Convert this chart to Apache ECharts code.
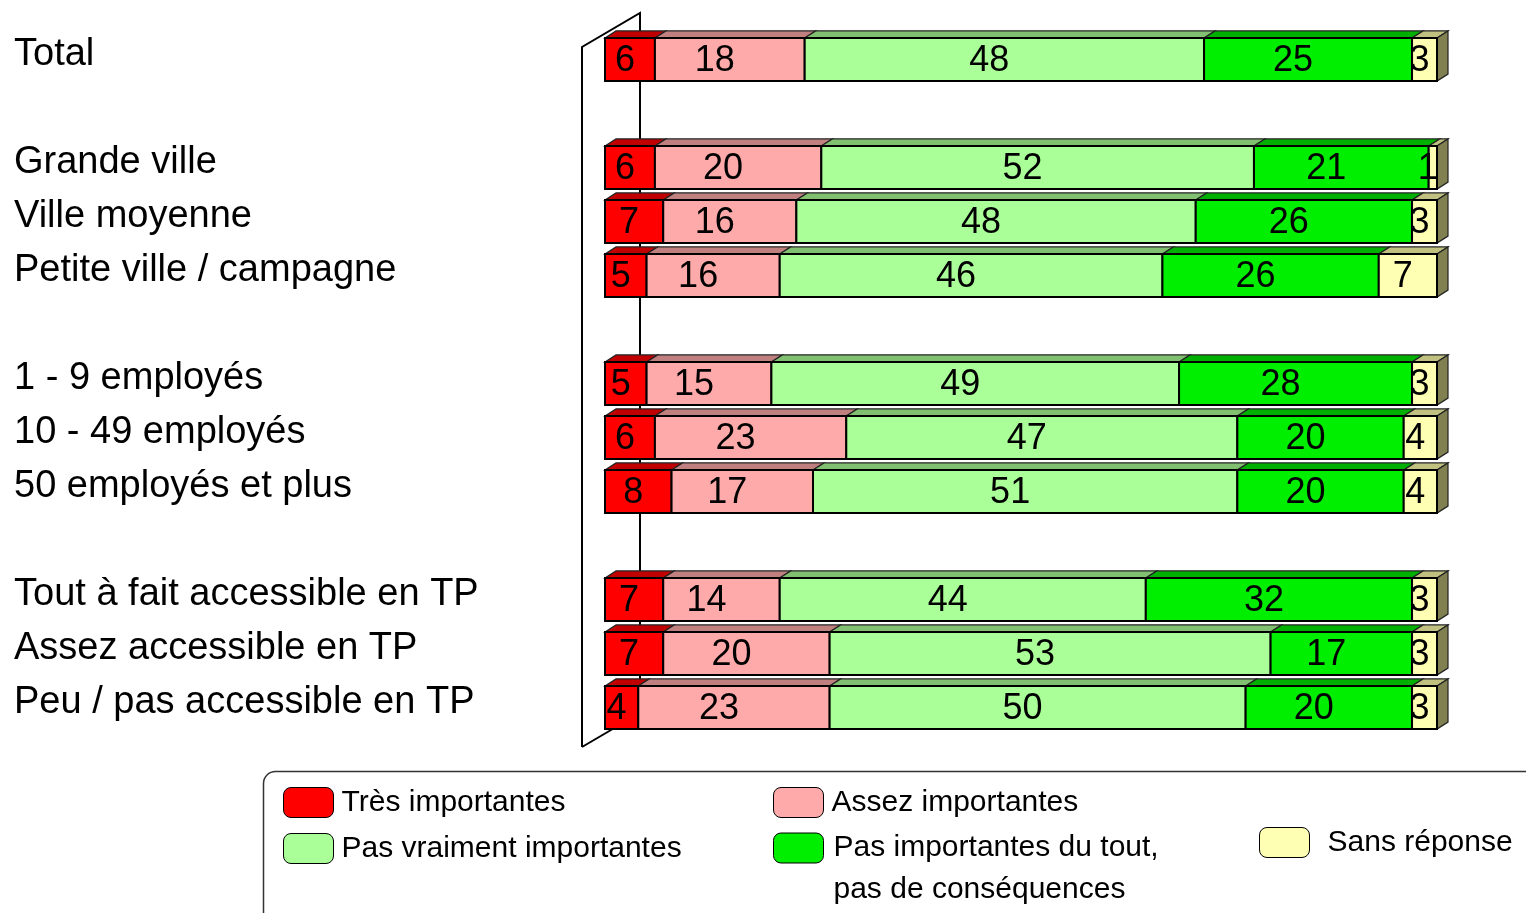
<!DOCTYPE html>
<html>
<head>
<meta charset="utf-8">
<script src="https://cdn.jsdelivr.net/npm/echarts@6/dist/echarts.min.js"></script>
<style>
html,body{margin:0;padding:0;background:#fff;}
#chart{width:1526px;height:913px;}
</style>
</head>
<body>
<div id="chart"></div>
<script>
// ---- data ----
const categories = ['Total', ' ', 'Grande ville', 'Ville moyenne', 'Petite ville / campagne', '  ',
  '1 - 9 employés', '10 - 49 employés', '50 employés et plus', '   ',
  'Tout à fait accessible en TP', 'Assez accessible en TP', 'Peu / pas accessible en TP'];
const rowIndex = [0, 2, 3, 4, 6, 7, 8, 10, 11, 12];
const seriesNames = ['Très importantes', 'Assez importantes', 'Pas vraiment importantes',
  'Pas importantes du tout, pas de conséquences', 'Sans réponse'];
const tresImportantes   = [6, 6, 7, 5, 5, 6, 8, 7, 7, 4];
const assezImportantes  = [18, 20, 16, 16, 15, 23, 17, 14, 20, 23];
const pasVraiment       = [48, 52, 48, 46, 49, 47, 51, 44, 53, 50];
const pasDuTout         = [25, 21, 26, 26, 28, 20, 20, 32, 17, 20];
const sansReponse       = [3, 1, 3, 7, 3, 4, 4, 3, 3, 3];
const allValues = [tresImportantes, assezImportantes, pasVraiment, pasDuTout, sansReponse];

// ---- styles ----
const FONT = "'Liberation Sans', Arial, Helvetica, sans-serif";
const frontColors = ['#ff0000', '#ffaaaa', '#aaff99', '#00ee00', '#ffffb3'];
const topColors   = ['#c00000', '#c08080', '#80c070', '#00b000', '#c0c080'];
const sideColor   = '#808050';
const DX = 11, DY = 7;

// build data rows: [categoryIndex, v0, v1, v2, v3, v4]
const rows = rowIndex.map((ci, i) => [ci].concat(allValues.map(a => a[i])));

function makeRender(k) {
  return function (params, api) {
    const cat = api.value(0);
    let start = 0;
    for (let j = 0; j < k; j++) start += api.value(1 + j);
    const v = api.value(1 + k);
    const end = start + v;
    const p0 = api.coord([start, cat]);
    const p1 = api.coord([end, cat]);
    const h = api.size([0, 1])[1] * 0.8;
    const x0 = p0[0], x1 = p1[0];
    const y0 = p0[1] - h / 2, y1 = p0[1] + h / 2;
    const children = [];
    children.push({
      type: 'polygon', z2: 1,
      shape: { points: [[x0, y0], [x0 + DX, y0 - DY], [x1 + DX, y0 - DY], [x1, y0]] },
      style: { fill: topColors[k], stroke: '#222', lineWidth: 1.2 }
    });
    if (k === 4) {
      children.push({
        type: 'polygon', z2: 1,
        shape: { points: [[x1, y0], [x1 + DX, y0 - DY], [x1 + DX, y1 - DY], [x1, y1]] },
        style: { fill: sideColor, stroke: '#222', lineWidth: 1.2 }
      });
    }
    children.push({
      type: 'rect', z2: 2,
      shape: { x: x0, y: y0, width: x1 - x0, height: h },
      style: { fill: frontColors[k], stroke: '#000', lineWidth: 2 }
    });
    children.push({
      type: 'text', z2: 3,
      style: {
        text: String(v), x: (x0 + x1) / 2 + 5, y: p0[1] + 1.5,
        align: 'right', verticalAlign: 'middle',
        fontSize: 36, fontFamily: FONT, fill: '#000'
      }
    });
    return { type: 'group', children: children };
  };
}

function renderWall(params, api) {
  const cs = params.coordSys;
  const fx = cs.x - 23, bx = cs.x + 35;
  const top = cs.y, bot = cs.y + cs.height;
  const st = { stroke: '#000', lineWidth: 2, fill: null };
  return {
    type: 'group',
    children: [
      { type: 'polyline', shape: { points: [[fx, bot + 12.5], [fx, top + 14.5], [bx, top - 19.5], [bx, bot - 21.5]] }, style: st },
      { type: 'line', shape: { x1: fx, y1: bot + 12.5, x2: bx, y2: bot - 21.5 }, style: st }
    ]
  };
}

const series = [{
  type: 'custom', name: 'wall', renderItem: renderWall, data: [[0, 0]], clip: false, z: 1, silent: true
}].concat(seriesNames.map((n, k) => ({
  type: 'custom', name: n, renderItem: makeRender(k), data: rows, clip: false, z: 2 + k,
  encode: { x: [1, 2, 3, 4, 5], y: 0 },
  itemStyle: { color: frontColors[k] }
})));

function legendItem(name, left, top, extra) {
  return Object.assign({
    data: [name], left: left, top: top, padding: 0, orient: 'vertical',
    itemWidth: 50, itemHeight: 30, icon: 'roundRect', selectedMode: false,
    itemStyle: { borderColor: '#000', borderWidth: 1 },
    textStyle: { fontSize: 30, fontFamily: FONT, color: '#000', lineHeight: 30, padding: [0, 0, 0, 3] }
  }, extra || {});
}

const option = {
  animation: false,
  backgroundColor: '#fff',
  grid: { left: 605, right: 89, top: 32.5, bottom: 178.5, containLabel: false },
  xAxis: { type: 'value', min: 0, max: 100, show: false },
  yAxis: {
    type: 'category', data: categories, inverse: true,
    axisLine: { show: false }, axisTick: { show: false }, splitLine: { show: false },
    axisLabel: {
      align: 'left', verticalAlign: 'bottom', lineHeight: 9, margin: 591,
      fontSize: 38, fontFamily: FONT, color: '#000'
    }
  },
  legend: [
    legendItem(seriesNames[0], 283, 787),
    legendItem(seriesNames[2], 283, 833),
    legendItem(seriesNames[1], 773, 787),
    legendItem(seriesNames[3], 773, 785, {
      formatter: () => '\nPas importantes du tout,\npas de conséquences',
      textStyle: { fontSize: 30, fontFamily: FONT, color: '#000', lineHeight: 42, padding: [0, 0, 0, 5] }
    }),
    legendItem(seriesNames[4], 1259, 827, {
      textStyle: { fontSize: 30, fontFamily: FONT, color: '#000', lineHeight: 30, padding: [0, 0, 0, 13] }
    })
  ],
  graphic: [{
    type: 'rect', left: 261, top: 769, z: -1,
    shape: { width: 1320, height: 160, r: 12 },
    style: { fill: null, stroke: '#333', lineWidth: 1.5 }
  }],
  series: series
};

const chart = echarts.init(document.getElementById('chart'));
chart.setOption(option);
</script>
</body>
</html>
